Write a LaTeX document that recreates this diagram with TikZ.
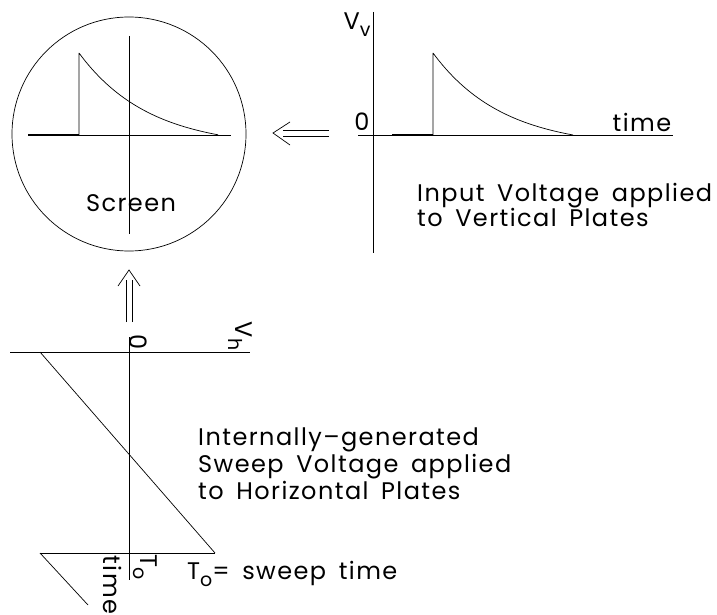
\documentclass[tikz,border=0pt]{standalone}
\usepackage{fontspec}
\setmainfont{Poppins}[LetterSpace=6,WordSpace=1.6]
\usetikzlibrary{arrows.meta}
\newcommand{\lowsub}[1]{\raisebox{-0.3em}{\fontsize{19}{19}\selectfont #1}}
\tikzset{
  axis/.style={
    line width=0.7pt,
    black
  },
  trace/.style={
    line width=0.7pt,
    black
  },
  base/.style={
    line width=1.6pt,
    black
  },
  lbl/.style={
    font=\fontsize{24}{25}\selectfont,
    inner sep=0pt
  },
  note/.style={
    lbl,
    align=left,
    anchor=north west
  }
}

\begin{document}
\begin{tikzpicture}[x=1pt,y=-1pt]
\useasboundingbox (0,0) rectangle (717,615);
% screen
\node[draw,circle,line width=0.7pt,minimum size=234pt,inner sep=0pt] (screen) at (129,134) {};
\draw[axis] (129,36) -- (129,234);
\draw[axis] (28,135) -- (231,135);
\draw[base] (28,135) -- (79,135);
\draw[trace] (79,135) -- (79,53) -- plot[domain=0:139,samples=60] ({79+\x},{135-82*(exp(-\x/70)-0.135)/0.865});
\node[lbl] (scrtxt) at (131,203) {Screen};
% input voltage
\draw[axis] (373,12) -- (373,253);
\draw[axis] (358,135) -- (673,135);
\draw[base] (392,135) -- (433,135);
\draw[trace] (433,135) -- (433,53) -- plot[domain=0:140,samples=60] ({433+\x},{135-82*(exp(-\x/70)-0.135)/0.865});
\node[lbl] (vv) at (357,25) {V\lowsub{v}};
\node[lbl] (vzero) at (362,122) {0};
\node[lbl] (vtime) at (642,122) {time};
\node[note] (vnote) at (417,183) {Input Voltage applied\\to Vertical Plates};
% sweep voltage
\draw[axis] (10,352) -- (250,352);
\draw[axis] (129,337) -- (129,580);
\draw[trace] (40,352) -- (215,553);
\draw[axis] (40,553) -- (215,553);
\draw[trace] (40,553) -- (88,605);
\node[lbl,rotate=-90] (hzero) at (138,342) {0};
\node[lbl,rotate=-90] (vh) at (240,336) {V\lowsub{h}};
\node[lbl,rotate=-90] (tnought) at (145,567) {T\lowsub{o}};
\node[lbl,rotate=-90] (htime) at (113,585) {time};
\node[note,font=\fontsize{24}{27}\selectfont] (hnote) at (198,428) {Internally--generated\\Sweep Voltage applied\\to Horizontal Plates};
\node[lbl,anchor=west] (tsweep) at (187,574) {T\lowsub{o}= sweep time};
% arrows to screen
\coordinate (vin) at (329,133);
\coordinate (vout) at (273,133);
\draw[axis] ([yshift=3pt]vin) -- ([yshift=3pt,xshift=10pt]vout);
\draw[axis] ([yshift=-3pt]vin) -- ([yshift=-3pt,xshift=10pt]vout);
\draw[axis] ([shift={(17pt,11pt)}]vout) -- (vout) -- ([shift={(17pt,-12pt)}]vout);
\coordinate (hin) at (129,322);
\coordinate (hout) at (129,270);
\draw[axis] ([xshift=-3pt]hin) -- ([xshift=-3pt,yshift=-10pt]hout);
\draw[axis] ([xshift=3pt]hin) -- ([xshift=3pt,yshift=-10pt]hout);
\draw[axis] ([shift={(-11pt,-16pt)}]hout) -- (hout) -- ([shift={(11pt,-16pt)}]hout);
\end{tikzpicture}
\end{document}
